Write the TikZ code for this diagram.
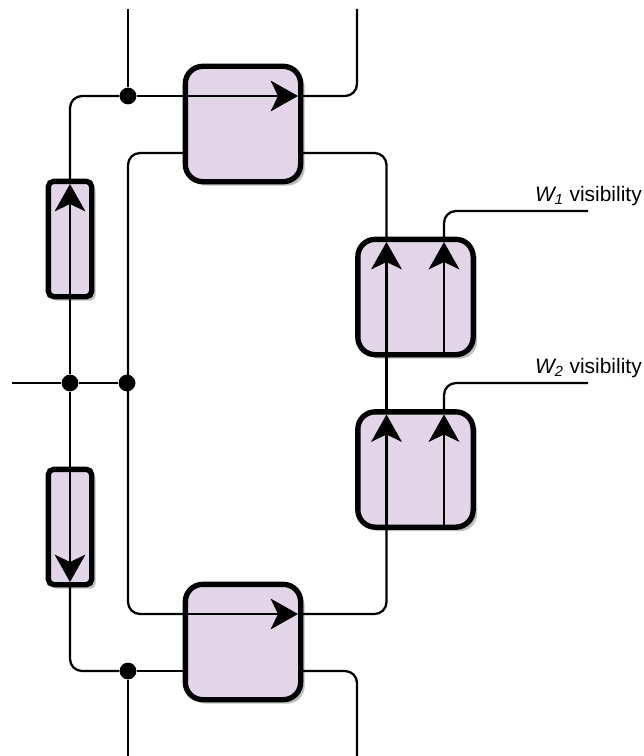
\documentclass[tikz,border=0pt]{standalone}
\usepackage{fontspec}
\setmainfont{Liberation Sans}
\usetikzlibrary{arrows.meta,shadows}
\tikzset{
	bigbox/.style={draw,line width=4pt,fill=boxfill,rounded corners=13pt,minimum width=86.5pt,minimum height=86.5pt,outer sep=0pt,inner sep=0pt,drop shadow={shadow xshift=3pt,shadow yshift=-3pt,fill=black!25,opacity=1}},
	slimbox/.style={bigbox,rounded corners=4pt,minimum width=32.5pt,minimum height=86.5pt},
	conn/.style={line width=1.7pt,rounded corners=9pt},
	arrowconn/.style={line width=1.7pt,-{Stealth[length=20.5pt,width=23pt,inset=5.5pt]},shorten >=2pt},
	junction/.style={circle,fill=black,inner sep=0pt,minimum size=12.6pt},
	vislabel/.style={anchor=base east,inner sep=0pt,font=\fontsize{15.7pt}{18pt}\selectfont}
}
\definecolor{boxfill}{HTML}{E1D5E7}
\begin{document}
\begin{tikzpicture}[x=0.75pt,y=-0.75pt]
		\useasboundingbox (0,0) rectangle (643,756);
		% Boxes
		\node[bigbox] (boxTop) at (243,124) {};
		\node[bigbox] (boxBot) at (243,642) {};
		\node[bigbox] (boxWone) at (415.5,297) {};
		\node[bigbox] (boxWtwo) at (415.5,469.5) {};
		\node[slimbox] (slimUp) at (70,239) {};
		\node[slimbox] (slimDown) at (70,527) {};
		% Junctions
		\node[junction] (dotTop) at (128,96) {};
		\node[junction] (dotBot) at (128,671) {};
		\node[junction] (dotLeft) at (70,383) {};
		\node[junction] (dotRight) at (127,383) {};
		% Free ends and corners
		\coordinate (inTop) at (128,9);
		\coordinate (outTop) at (357,9);
		\coordinate (inBot) at (128,756);
		\coordinate (outBot) at (357,756);
		\coordinate (inLeft) at (12,383);
		\coordinate (laneB) at (128,153);
		\coordinate (laneC) at (128,614);
		\coordinate (busR) at (386.5,153);
		\coordinate (tapW) at (444,300);
		\coordinate (endWone) at (588,211);
		\coordinate (endWtwo) at (588,383);
		% Top and bottom rails
		\draw[conn] (inTop) -- (dotTop);
		\draw[conn] (dotLeft) -- (slimUp.south);
		\draw[conn] (slimUp.north) -- (slimUp.north |- dotTop) -- (dotTop);
		\draw[conn] (dotLeft) -- (slimDown.north);
		\draw[conn] (slimDown.south) -- (slimDown.south |- dotBot) -- (dotBot);
		\draw[conn] (dotBot) -- (inBot);
		\draw[conn] (dotBot) -- (boxBot.west |- dotBot);
		\draw[conn] (boxTop.east |- dotTop) -- (outTop |- dotTop) -- (outTop);
		\draw[conn] (boxBot.east |- dotBot) -- (outBot |- dotBot) -- (outBot);
		% Middle row
		\draw[conn] (inLeft) -- (dotLeft) -- (dotRight);
		\draw[conn] (boxTop.west |- laneB) -- (laneB) -- (laneC) -- (boxBot.west |- laneC);
		\draw[conn] (boxTop.east |- busR) -- (busR) -- (busR |- boxWone.north);
		\draw[conn] (boxWone.south -| busR) -- (boxWtwo.north -| busR);
		\draw[conn] (boxWtwo.south -| busR) -- (busR |- laneC) -- (boxBot.east |- laneC);
		% Arrows inside the boxes
		\draw[arrowconn] (dotTop) -- (boxTop.east |- dotTop);
		\draw[arrowconn] (boxBot.west |- laneC) -- (boxBot.east |- laneC);
		\draw[arrowconn] (slimUp.south) -- (slimUp.north);
		\draw[arrowconn] (slimDown.north) -- (slimDown.south);
		\foreach \boxname in {boxWone, boxWtwo} {
			\draw[arrowconn] (\boxname.south -| busR) -- (\boxname.north -| busR);
			\draw[arrowconn] (\boxname.south -| tapW) -- (\boxname.north -| tapW);
		}
		% Visibility inputs
		\draw[conn] (boxWone.north -| tapW) -- (tapW |- endWone) -- (endWone);
		\draw[conn] (boxWtwo.north -| tapW) -- (tapW |- endWtwo) -- (endWtwo);
		\node[vislabel] (labelWone) at (642,201) {\textit{W\textsubscript{1}} visibility};
		\node[vislabel] (labelWtwo) at (642,373) {\textit{W\textsubscript{2}} visibility};
	\end{tikzpicture}
\end{document}
